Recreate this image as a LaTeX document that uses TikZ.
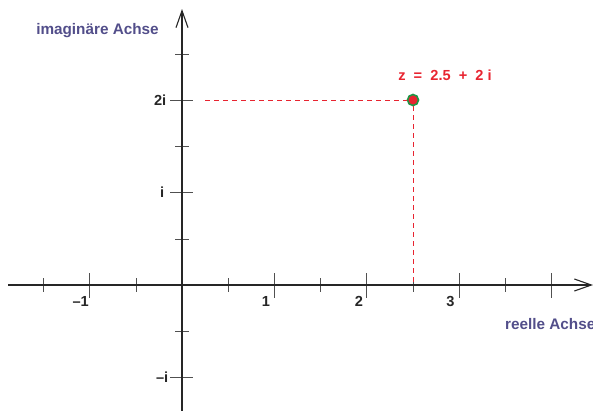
\documentclass[tikz,border=0pt]{standalone}
\usepackage{fontspec}
\setmainfont{Liberation Sans}
\usetikzlibrary{arrows.meta}
\definecolor{axislabel}{RGB}{82,78,138}
\definecolor{zred}{RGB}{232,36,48}
\definecolor{zgreen}{RGB}{30,150,70}
\definecolor{tickgray}{RGB}{80,80,80}
\begin{document}
\begin{tikzpicture}[x=1pt,y=-1pt,
  axisline/.style={line width=1.3pt,draw=black!85,-{Straight Barb[length=17pt,width=12pt,line width=1.1pt]}},
  tickline/.style={line width=0.9pt,draw=tickgray},
  numlabel/.style={font=\fontsize{14.6}{16}\selectfont\bfseries,text=black!85,inner sep=0pt},
  axlabel/.style={font=\fontsize{15.3}{17}\selectfont\bfseries,text=axislabel,inner sep=0pt},
  zlabel/.style={font=\fontsize{14.6}{17}\selectfont\bfseries,text=zred,inner sep=0pt},
  helper/.style={draw=zred,line width=1pt,dash pattern=on 5pt off 4pt},
  zpoint/.style={circle,draw=zgreen,fill=zred,line width=1.6pt,minimum size=11pt,inner sep=0pt}]
\clip (0,0) rectangle (593,410);
\useasboundingbox (0,0) rectangle (593,410);
% axes
\coordinate (xs) at (8,285);
\coordinate (xe) at (593,285);
\coordinate (ys) at (182,412);
\coordinate (ye) at (182,9);
% ticks x-axis
\foreach \x in {43,136,228,320,413,505} \draw[tickline] (\x,278) -- (\x,292);
\foreach \x in {89,274,366,459,551} \draw[tickline] (\x,273) -- (\x,298);
% ticks y-axis
\foreach \y in {54,146,239,331} \draw[tickline] (175,\y) -- (189,\y);
\foreach \y in {100,192,377} \draw[tickline] (170,\y) -- (193,\y);
\draw[axisline] (xs) -- (xe);
\draw[axisline] (ys) -- (ye);
% labels
\node[numlabel,anchor=east] (lm1) at (89,301) {–1};
\node[numlabel] (l1) at (266,301) {1};
\node[numlabel] (l2) at (359,301) {2};
\node[numlabel] (l3) at (450.5,301) {3};
\node[numlabel,anchor=east] (l2i) at (166.5,100) {2i};
\node[numlabel,anchor=east] (li) at (164.5,192) {i};
\node[numlabel,anchor=east] (lmi) at (168.5,377) {–i};
\node[axlabel,anchor=west] (re) at (505,324) {reelle Achse};
\node[axlabel] (im) at (97.5,31) {imaginäre Achse};
% point
\coordinate (hy) at (205,100);
\coordinate (hx) at (413,285);
\node[zpoint] (P) at (413,100) {};
\draw[helper] (hy) -- (P.west);
\draw[helper] (P.south) -- (hx);
\node[zlabel] (zl) at (445,75) {z \ = \ 2.5 \ + \ 2 i};
\end{tikzpicture}
\end{document}
